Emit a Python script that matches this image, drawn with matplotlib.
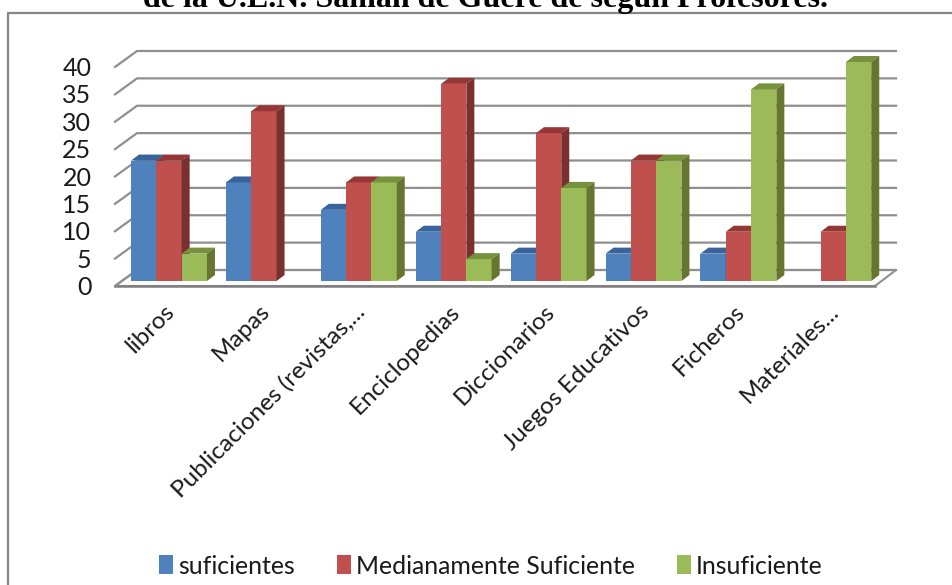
import matplotlib
matplotlib.use("Agg")
import matplotlib.pyplot as plt
from matplotlib.lines import Line2D
from matplotlib.patches import Patch
from matplotlib.transforms import ScaledTranslation

categories = ["libros", "Mapas", "Publicaciones (revistas,...", "Enciclopedias",
              "Diccionarios", "Juegos Educativos", "Ficheros", "Materiales..."]
suficientes = [22, 18, 13, 9, 5, 5, 5, 0]
medianamente = [22, 31, 18, 36, 27, 22, 9, 9]
insuficiente = [5, 0, 18, 4, 17, 22, 35, 40]
series_names = ["suficientes", "Medianamente Suficiente", "Insuficiente"]
y_ticks = [0, 5, 10, 15, 20, 25, 30, 35, 40]
title_text = "de la U.E.N. Samán de Güere de según Profesores."

W, H = 952, 585
FONT = "Lato"
fig = plt.figure(figsize=(W / 100, H / 100), dpi=100, facecolor="white")

# plot rectangle in pixels
X0, X1, Y0, Y40 = 115, 875, 281, 62
ax = fig.add_axes([X0 / W, 1 - Y0 / H, (X1 - X0) / W, (Y0 - Y40) / H])
STEP = 94.9
CENTER0 = 169
ax.set_xlim((X0 - CENTER0) / STEP, (X1 - CENTER0) / STEP)
ax.set_ylim(0, 40)
ax.patch.set_visible(False)
for s in ax.spines.values():
    s.set_visible(False)

ux = 1 / STEP                 # data units per pixel, horizontal
uy = 40 / (Y0 - Y40)          # data units per pixel, vertical
xl, xr = ax.get_xlim()

GRID = "#8f8f8f"
# floor
ax.fill([xl, xl + 22 * ux, xr + 21 * ux, xr],
        [-5 * uy, 11 * uy, 11 * uy, -5 * uy],
        facecolor="white", edgecolor=GRID, lw=1.5, clip_on=False, zorder=1)
ax.plot([xl, xr], [-5 * uy, -5 * uy], color="#7f7f7f", lw=1.8, clip_on=False, zorder=1.1)
# wall gridlines
for t in y_ticks:
    ax.plot([xl, xl + 22 * ux, xr + 21 * ux], [t - 5 * uy, t + 11 * uy, t + 11 * uy],
            color=GRID, lw=1.6, clip_on=False, zorder=1.2, solid_joinstyle="miter")

# bars
bar_w = 25.3 * ux
dx, dy = 8 * ux, 6 * uy
front = ["#4F81BD", "#C0504D", "#9BBB59"]
top = ["#38649B", "#953735", "#76923C"]
side = ["#2F5480", "#7B3030", "#66752F"]
data = [suficientes, medianamente, insuficiente]
for i in range(len(categories)):
    for k, vals in enumerate(data):
        v = vals[i]
        if v == 0:
            continue
        left = i + (k - 1.5) * bar_w
        ax.bar(left, v, width=bar_w, align="edge", color=front[k], lw=0, zorder=2, clip_on=False)
        ax.fill([left, left + dx, left + bar_w + dx, left + bar_w],
                [v, v + dy, v + dy, v], color=top[k], lw=0, zorder=2, clip_on=False)
        ax.fill([left + bar_w, left + bar_w + dx, left + bar_w + dx, left + bar_w],
                [0, dy, v + dy, v], color=side[k], lw=0, zorder=2, clip_on=False)

# ticks
ax.set_yticks(y_ticks)
ax.tick_params(axis="y", length=0, pad=17, labelsize=18, labelcolor="#1a1a1a")
shift = ScaledTranslation(0, -4.5 / 100, fig.dpi_scale_trans)
for lab in ax.get_yticklabels():
    lab.set_fontfamily(FONT)
    lab.set_transform(lab.get_transform() + shift)
ax.set_xticks(range(len(categories)))
ax.set_xticklabels(categories, rotation=45, ha="right", rotation_mode="anchor",
                   fontsize=17.5, fontfamily=FONT, color="#1a1a1a")
ax.tick_params(axis="x", length=0, pad=14)
xshift = ScaledTranslation(-5 / 100, 0, fig.dpi_scale_trans)
for lab in ax.get_xticklabels():
    lab.set_transform(lab.get_transform() + xshift)

# title, cut by the top edge as in the reference
fig.text(486 / W, 1 - 7.5 / H, title_text, ha="center", va="baseline",
         fontsize=23, fontweight="bold", fontfamily="Liberation Serif", color="black")

# chart frame
fig.add_artist(Line2D([8 / W, 8 / W, 1], [0, 1 - 13 / H, 1 - 13 / H], color="#868686", lw=1.6))

# legend
handles = [Patch(facecolor=c, edgecolor="none") for c in front]
fig.legend(handles, series_names, loc="center", bbox_to_anchor=(491 / W, 1 - 566 / H),
           ncol=3, frameon=False, prop={"family": FONT, "size": 17.9},
           handlelength=0.56, handleheight=0.8, handletextpad=0.2, columnspacing=1.69,
           labelcolor="#1a1a1a")

fig.savefig("out.png", dpi=100)
